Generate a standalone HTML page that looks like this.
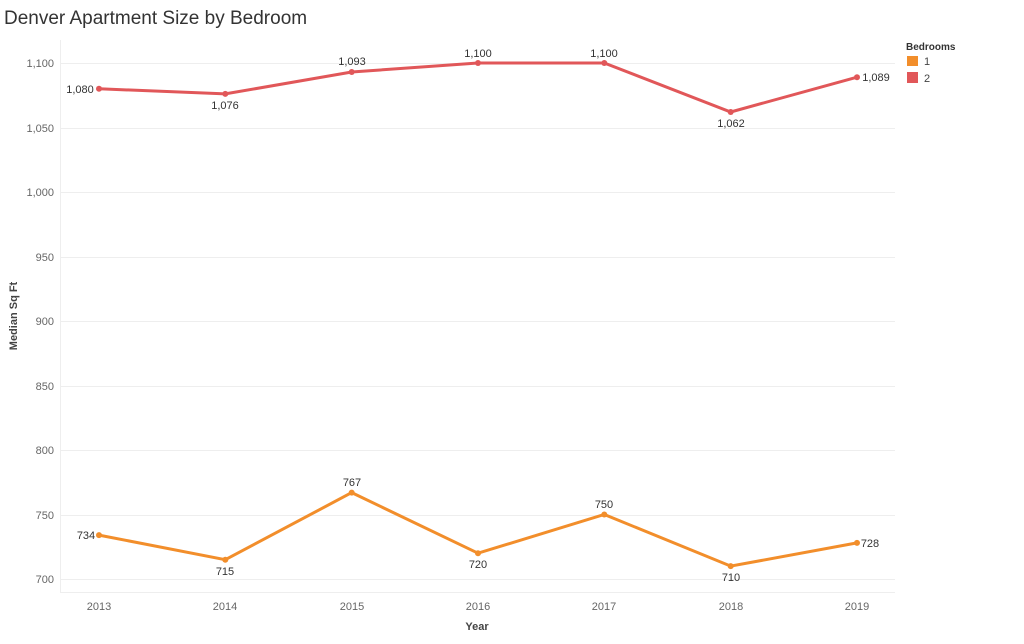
<!DOCTYPE html>
<html><head><style>body{margin:0;background:#fff}</style></head><body>
<svg width="1024" height="639" xmlns="http://www.w3.org/2000/svg" font-family="Liberation Sans, sans-serif">
<text x="4" y="24" font-size="19" fill="#333">Denver Apartment Size by Bedroom</text>
<g stroke="#eee" stroke-width="1">
<line x1="60" x2="895" y1="63.5" y2="63.5"/><line x1="60" x2="895" y1="128.5" y2="128.5"/>
<line x1="60" x2="895" y1="192.5" y2="192.5"/><line x1="60" x2="895" y1="257.5" y2="257.5"/>
<line x1="60" x2="895" y1="321.5" y2="321.5"/><line x1="60" x2="895" y1="386.5" y2="386.5"/>
<line x1="60" x2="895" y1="450.5" y2="450.5"/><line x1="60" x2="895" y1="515.5" y2="515.5"/>
<line x1="60" x2="895" y1="579.5" y2="579.5"/>
<line x1="60" x2="895" y1="592.5" y2="592.5"/><line x1="60.5" x2="60.5" y1="40" y2="592"/>
</g>
<g font-size="11" fill="#666" text-anchor="end">
<text x="54" y="67">1,100</text><text x="54" y="132">1,050</text><text x="54" y="196">1,000</text>
<text x="54" y="261">950</text><text x="54" y="325">900</text><text x="54" y="390">850</text>
<text x="54" y="454">800</text><text x="54" y="519">750</text><text x="54" y="583">700</text>
</g>
<g font-size="11" fill="#666" text-anchor="middle">
<text x="99" y="610">2013</text><text x="225" y="610">2014</text><text x="352" y="610">2015</text>
<text x="478" y="610">2016</text><text x="604" y="610">2017</text><text x="731" y="610">2018</text><text x="857" y="610">2019</text>
</g>
<text x="477" y="630" font-size="11" font-weight="bold" fill="#444" text-anchor="middle">Year</text>
<text transform="translate(17,316) rotate(-90)" font-size="11" font-weight="bold" fill="#444" text-anchor="middle">Median Sq Ft</text>
<polyline fill="none" stroke="#e15759" stroke-width="3" points="99,88.8 225.3,93.9 351.7,72 478,63 604.3,63 730.7,112 857,77.2"/>
<polyline fill="none" stroke="#f28e2b" stroke-width="3" points="99,535.1 225.3,559.7 351.7,492.6 478,553.2 604.3,514.5 730.7,566.1 857,542.9"/>
<g fill="#e15759"><circle cx="99" cy="88.8" r="3"/><circle cx="225.3" cy="93.9" r="3"/><circle cx="351.7" cy="72" r="3"/><circle cx="478" cy="63" r="3"/><circle cx="604.3" cy="63" r="3"/><circle cx="730.7" cy="112" r="3"/><circle cx="857" cy="77.2" r="3"/></g>
<g fill="#f28e2b"><circle cx="99" cy="535.1" r="3"/><circle cx="225.3" cy="559.7" r="3"/><circle cx="351.7" cy="492.6" r="3"/><circle cx="478" cy="553.2" r="3"/><circle cx="604.3" cy="514.5" r="3"/><circle cx="730.7" cy="566.1" r="3"/><circle cx="857" cy="542.9" r="3"/></g>
<g font-size="11" fill="#333" text-anchor="middle">
<text x="80" y="93">1,080</text><text x="225" y="109">1,076</text><text x="352" y="65">1,093</text>
<text x="478" y="57">1,100</text><text x="604" y="57">1,100</text><text x="731" y="127">1,062</text><text x="876" y="81">1,089</text>
<text x="86" y="539">734</text><text x="225" y="575">715</text><text x="352" y="486">767</text>
<text x="478" y="568">720</text><text x="604" y="508">750</text><text x="731" y="581">710</text><text x="870" y="547">728</text>
</g>
<text x="906" y="50" font-size="10" font-weight="bold" fill="#333">Bedrooms</text>
<rect x="907" y="56" width="11" height="10" fill="#f28e2b"/><text x="924" y="65" font-size="11" fill="#444">1</text>
<rect x="907" y="72" width="11" height="11" fill="#e15759"/><text x="924" y="82" font-size="11" fill="#444">2</text>
</svg>
</body></html>
